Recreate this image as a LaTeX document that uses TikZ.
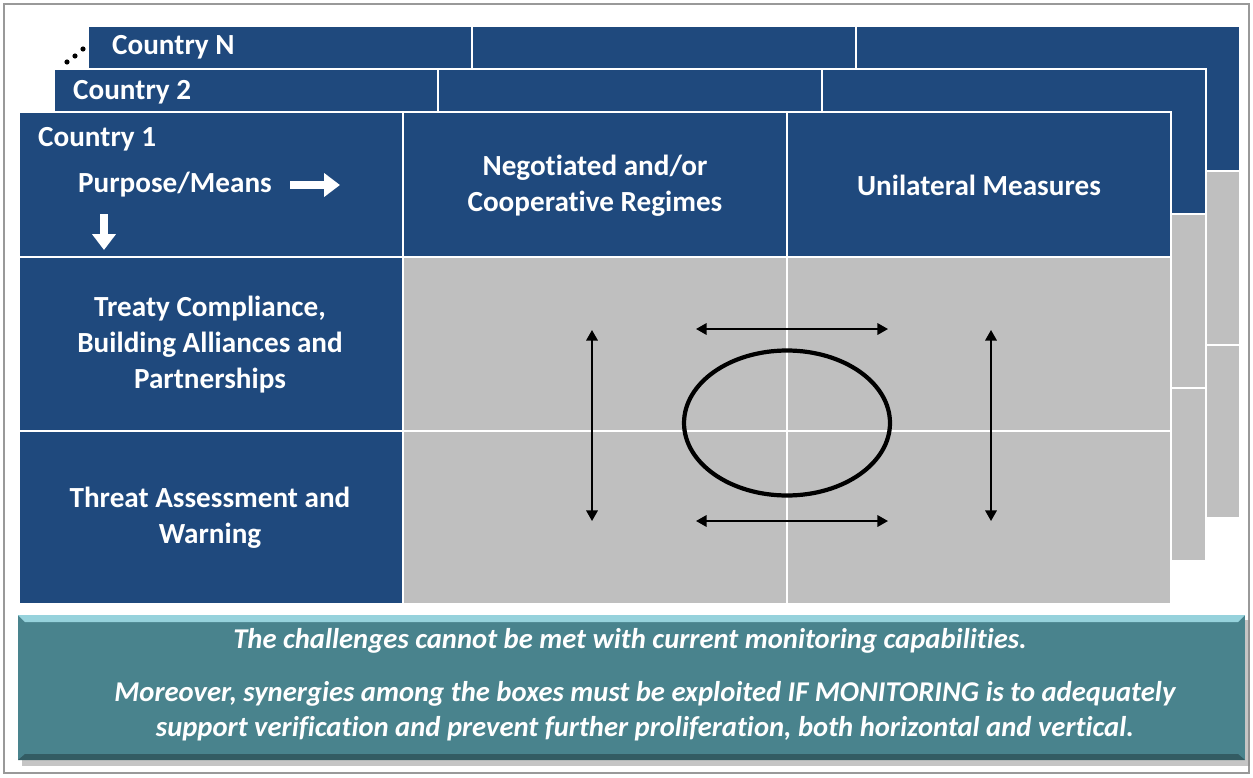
\documentclass[tikz,border=0pt]{standalone}
\usepackage{fontspec}
\setmainfont{Carlito}[Ligatures=NoCommon]
\usetikzlibrary{arrows.meta,shapes.geometric}

\definecolor{navy}{RGB}{31,73,125}
\definecolor{cellgrey}{RGB}{191,191,191}
\definecolor{teal}{RGB}{73,131,141}
\definecolor{tealhi}{RGB}{150,210,220}

\newcommand{\countrygrid}[2]{%
  \begin{scope}[shift={(#1,#2)}]
    \fill[navy] (19,112) rectangle (1171,257);
    \fill[navy] (19,257) rectangle (403,604);
    \fill[cellgrey] (403,257) rectangle (1171,604);
    \draw[white,line width=1.2pt]
      (19,112) rectangle (1171,604)
      (403,112) -- (403,604) (787,112) -- (787,604)
      (19,257) -- (1171,257) (19,431) -- (1171,431);
  \end{scope}}

\begin{document}
\begin{tikzpicture}[x=0.02cm,y=-0.02cm,
    head/.style={font=\fontsize{16.6}{20.4}\selectfont\bfseries,text=white},
    rowhead/.style={head,align=center},
    whitearrow/.style={white,line width=4.2pt,-{Triangle[length=9pt,width=13pt]}},
    twoway/.style={black,line width=1.1pt,
      {Triangle[length=6pt,width=6.5pt]}-{Triangle[length=6pt,width=6.5pt]}}]
  \useasboundingbox (0,0) rectangle (1253,777);
  \draw[gray!80,line width=0.6pt] (4,4) rectangle (1249,773);

  \countrygrid{69}{-86}
  \countrygrid{35}{-43}
  \countrygrid{0}{0}

  \fill (67,62) circle (2.6) (75,56) circle (2.6) (83,49) circle (2.6);

  \node[head,anchor=west] (cN) at (106,47) {Country N};
  \node[head,anchor=west] (c2) at (67,92) {Country 2};
  \node[head,anchor=west] (c1) at (32,139) {Country 1};
  \node[head,anchor=west] (pm) at (72,185) {Purpose/Means};
  \node[rowhead] (neg) at (595,186) {Negotiated and/or\\Cooperative Regimes};
  \node[rowhead] (uni) at (979,185) {Unilateral Measures};
  \node[rowhead] (treaty) at (210,344.5) {Treaty Compliance,\\Building Alliances and\\Partnerships};
  \node[rowhead] (threat) at (210,517.5) {Threat Assessment and\\Warning};

  \coordinate (pmA) at (290,185);
  \coordinate (pmB) at (340,185);
  \coordinate (dnA) at (104,214);
  \coordinate (dnB) at (104,250);
  \draw[whitearrow] (pmA) -- (pmB);
  \draw[whitearrow] (dnA) -- (dnB);

  \node[draw,ellipse,line width=2.4pt,minimum width=4.12cm,minimum height=2.9cm] (cycle) at (787,423) {};
  \coordinate (vlT) at (592,330);
  \coordinate (vlB) at (592,521);
  \coordinate (vrT) at (991,330);
  \coordinate (vrB) at (991,521);
  \coordinate (htL) at (696,329);
  \coordinate (htR) at (888,329);
  \coordinate (hbL) at (696,521);
  \coordinate (hbR) at (888,521);
  \draw[twoway] (vlT) -- (vlB);
  \draw[twoway] (vrT) -- (vrB);
  \draw[twoway] (htL) -- (htR);
  \draw[twoway] (hbL) -- (hbR);

  \fill[black!45,opacity=0.5] (22,620) rectangle (1250,766);
  \fill[teal] (18,615) rectangle (1245,760);
  \fill[tealhi] (18,615) -- (1245,615) -- (1238,622) -- (25,622) -- cycle;
  \fill[teal!70!black] (18,760) -- (1245,760) -- (1238,754) -- (25,754) -- cycle;
  \node[head,font=\fontsize{16.3}{20}\selectfont\bfseries\itshape] (msg1) at (630,641)
    {The challenges cannot be met with current monitoring capabilities.};
  \node[head,align=center,font=\fontsize{16.3}{20}\selectfont\bfseries\itshape] (msg2) at (645,711.5)
    {Moreover, synergies among the boxes must be exploited IF MONITORING is to adequately\\
     support verification and prevent further proliferation, both horizontal and vertical.};
\end{tikzpicture}
\end{document}
